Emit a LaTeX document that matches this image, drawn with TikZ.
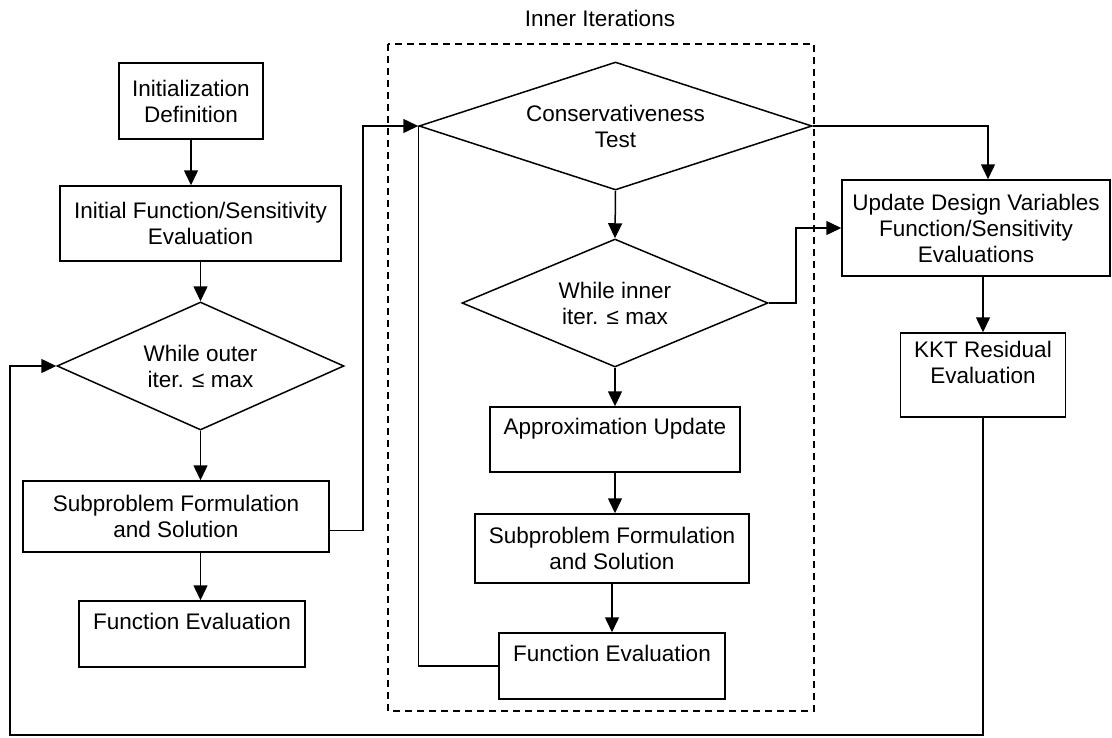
\documentclass[tikz,border=0pt]{standalone}
\usepackage{fontspec}
\setmainfont{Liberation Sans}
\usetikzlibrary{shapes.geometric,arrows.meta}
\begin{document}
\begin{tikzpicture}[x=1pt, y=-1pt,
    font=\fontsize{22.5}{26}\selectfont,
    line width=1.5pt,
    box/.style={draw, rectangle, align=center, inner sep=0pt},
    test/.style={draw, diamond, align=center, inner sep=0pt},
    flow/.style={-{Triangle[length=15pt,width=14pt]}}]
  \useasboundingbox (0,0) rectangle (1112,737);
  \draw[dash pattern=on 7pt off 5pt] (388,44) rectangle (814,711);
  \node (inlabel) at (600,18) {Inner Iterations};

  \node[box, minimum width=144, minimum height=76] (init)   at (191,101)   {Initialization\\Definition};
  \node[box, minimum width=281, minimum height=75] (initf)  at (200.5,223.5) {Initial Function/Sensitivity\\Evaluation};
  \node[test, aspect=2.24, minimum width=287, minimum height=128] (outer) at (200.5,366) {While outer\\iter. ≤ max};
  \node[box, minimum width=306, minimum height=71] (osub)   at (176,516.5) {Subproblem Formulation\\and Solution};
  \node[box, minimum width=226, minimum height=66] (ofe)    at (192,634)   {Function Evaluation\\~};

  \node[test, aspect=3.07, minimum width=393, minimum height=128] (cons)  at (615.5,126) {Conservativeness\\Test};
  \node[test, aspect=2.39, minimum width=306, minimum height=128] (inner) at (615,303)   {While inner\\iter. ≤ max};
  \node[box, minimum width=250, minimum height=65] (approx) at (615,439.5) {Approximation Update\\~};
  \node[box, minimum width=274, minimum height=69] (isub)   at (612,548.5) {Subproblem Formulation\\and Solution};
  \node[box, minimum width=226, minimum height=66] (ife)    at (612,666)   {Function Evaluation\\~};

  \node[box, minimum width=268, minimum height=96] (upd)    at (976,228)   {Update Design Variables\\Function/Sensitivity\\Evaluations};
  \node[box, minimum width=165, minimum height=84] (kkt)    at (983,375)   {KKT Residual\\Evaluation\\~};

  \coordinate (corner) at (10,735);

  \draw[flow] (init.south) -- (init.south |- initf.north);
  \draw[flow] (initf.south) -- (outer.north);
  \draw[flow] (outer.south) -- (outer.south |- osub.north);
  \draw[flow] (outer.south |- osub.south) -- (outer.south |- ofe.north);
  \draw[flow] ([yshift=-14pt]osub.east) -- ++(33,0) |- (cons.west);
  \draw[flow] (cons.south) -- (inner.north);
  \draw[flow] (inner.south) -- (approx.north);
  \draw[flow] (approx.south) -- (approx.south |- isub.north);
  \draw[flow] (isub.south) -- (ife.north);
  \draw (ife.west) -| (cons.west);
  \draw[flow] (inner.east) -- ++(27,0) |- (upd.west);
  \draw[flow] (cons.east) -| ([xshift=12pt]upd.north);
  \draw[flow] (kkt.north |- upd.south) -- (kkt.north);
  \draw[flow] (kkt.south) |- (corner) |- (outer.west);
\end{tikzpicture}
\end{document}
